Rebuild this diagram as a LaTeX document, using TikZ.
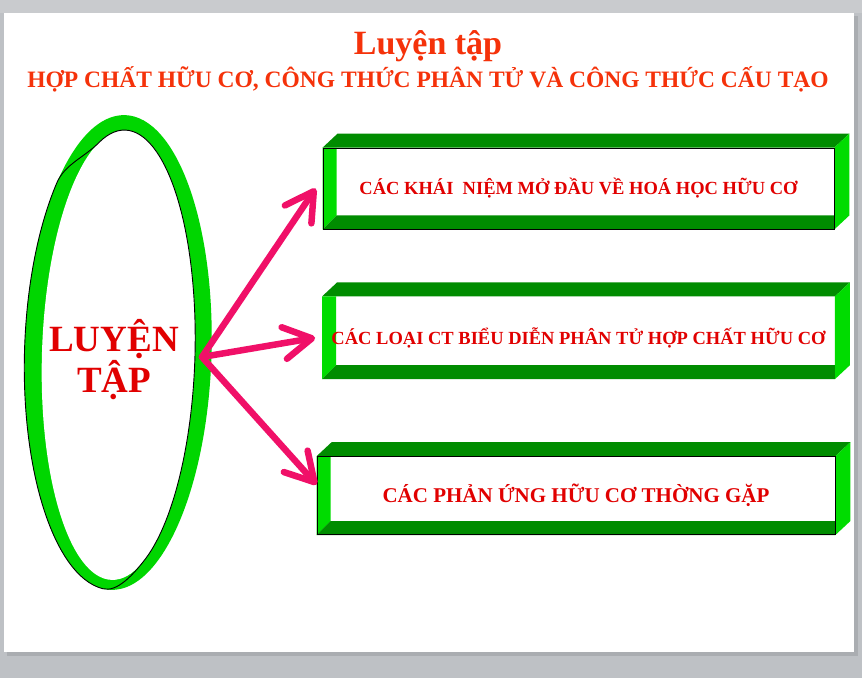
\documentclass[tikz,border=0pt]{standalone}
\usepackage{fontspec}
\setmainfont{Liberation Serif}
\usetikzlibrary{positioning,arrows.meta,backgrounds}

\definecolor{slidegray}{RGB}{190,193,197}
\definecolor{shadegray}{RGB}{170,173,177}
\definecolor{topgray}{RGB}{201,203,206}
\definecolor{ringgreen}{RGB}{0,214,0}
\definecolor{lightgreen}{RGB}{0,220,0}
\definecolor{deepgreen}{RGB}{0,140,0}
\definecolor{titlered}{RGB}{245,50,10}
\definecolor{boxred}{RGB}{225,0,0}
\definecolor{arrowpink}{RGB}{240,16,104}

% green bevel and depth faces behind a box node
\newcommand{\slab}[1]{%
  \fill[deepgreen] (#1.north west) -- ++(15,14) -- ([shift={(15,14)}]#1.north east) -- (#1.north east) -- cycle;
  \fill[lightgreen] (#1.north east) -- ++(15,14) -- ([shift={(15,14)}]#1.south east) -- (#1.south east) -- cycle;
  \fill[lightgreen] (#1.north west) -- ([xshift=14pt]#1.north west) -- ([shift={(14,14)}]#1.south west) -- (#1.south west) -- cycle;
  \fill[deepgreen] (#1.south west) -- ([shift={(14,14)}]#1.south west) -- ([yshift=14pt]#1.south east) -- (#1.south east) -- cycle;
}

\begin{document}
\begin{tikzpicture}[x=1pt, y=1pt,
    box/.style={inner sep=0pt, text=boxred, line width=0.8pt},
    arr/.style={draw=arrowpink, line width=6.5pt, line cap=round, -{Straight Barb[length=28pt,width=32pt,round]}},]
  \useasboundingbox (0,0) rectangle (862,678);
  \begin{scope}[on background layer]
    \fill[slidegray] (0,0) rectangle (862,678);
    \fill[topgray] (0,665) rectangle (862,678);
    \fill[shadegray] (7,22) rectangle (858,662);
    \fill[white] (4,26) rectangle (854,665);
  \end{scope}

  \node[font=\fontsize{34}{36}\selectfont\bfseries, text=titlered, anchor=base] (title) at (428,623) {Luyện tập};
  \node[font=\fontsize{23.5}{25}\selectfont\bfseries, text=titlered, anchor=base] (subtitle) at (428,590) {HỢP CHẤT HỮU CƠ, CÔNG THỨC PHÂN TỬ VÀ CÔNG THỨC CẤU TẠO};

  % twisted ring
  \begin{scope}[rotate around={-1.7:(118,325)}]
    \fill[ringgreen] (118,325.5) ellipse [x radius=93.5, y radius=237.5];
    \fill[white] (118.5,323) ellipse [x radius=76.5, y radius=225];
    \begin{scope}
      \clip (118,325.5) ellipse [x radius=94.2, y radius=238.2];
      \draw[line width=0.9pt, line join=round] (92.34,534.43) arc[start angle=110, end angle=-65, x radius=76.5, y radius=225]
        .. controls (140.2,104.5) and (124.5,85.6) .. (109.85,88.9)
        arc[start angle=-95, end angle=-225, x radius=93.5, y radius=237.5]
        .. controls (59.2,512.0) and (78.7,519.8) .. (92.34,534.43);
    \end{scope}
  \end{scope}
  \node[font=\fontsize{37}{41}\selectfont\bfseries, text=boxred, align=center] (ring) at (114,318) {LUYỆN\\TẬP};
  \coordinate (hub) at (202,321);

  \node[box, draw, minimum width=511pt, minimum height=81pt, font=\fontsize{18.5}{20}\selectfont\bfseries] (concept) at (578.5,489.5) {CÁC KHÁI~ NIỆM MỞ ĐẦU VỀ HOÁ HỌC HỮU CƠ};
  \node[box, minimum width=512pt, minimum height=82pt, below=67pt of concept, font=\fontsize{18.5}{20}\selectfont\bfseries] (formula) {CÁC LOẠI CT BIỂU DIỄN PHÂN TỬ HỢP CHẤT HỮU CƠ};
  \node[box, draw, minimum width=518pt, minimum height=78pt, below=77pt of formula, xshift=-2.5pt, font=\fontsize{21}{23}\selectfont\bfseries] (reaction) {CÁC PHẢN ỨNG HỮU CƠ THỜNG GẶP};
  \begin{scope}[on background layer]
    \slab{concept}
    \slab{formula}
    \slab{reaction}
  \end{scope}

  \draw[arr] (hub) -- ([xshift=-7pt]concept.west);
  \draw[arr] (hub) -- ([xshift=-7pt]formula.west);
  \draw[arr] (hub) -- ([yshift=11pt]reaction.west);
\end{tikzpicture}
\end{document}
